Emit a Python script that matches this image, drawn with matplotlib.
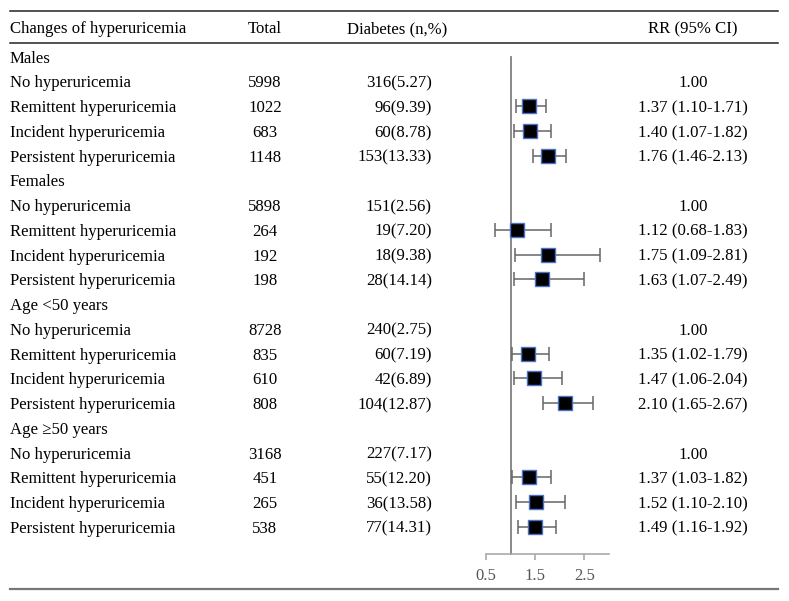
import numpy as np
import matplotlib.pyplot as plt

plt.rcParams['font.family'] = ['Liberation Serif', 'DejaVu Serif']

groups = ['Males', 'Females', 'Age <50 years', 'Age \u226550 years']
changes = ['No hyperuricemia', 'Remittent hyperuricemia',
           'Incident hyperuricemia', 'Persistent hyperuricemia']
totals = [[5998, 1022, 683, 1148],
          [5898, 264, 192, 198],
          [8728, 835, 610, 808],
          [3168, 451, 265, 538]]
diabetes = [['316(5.27)', '96(9.39)', '60(8.78)', '153(13.33)'],
            ['151(2.56)', '19(7.20)', '18(9.38)', '28(14.14)'],
            ['240(2.75)', '60(7.19)', '42(6.89)', '104(12.87)'],
            ['227(7.17)', '55(12.20)', '36(13.58)', '77(14.31)']]
rr = [[1.00, 1.37, 1.40, 1.76],
      [1.00, 1.12, 1.75, 1.63],
      [1.00, 1.35, 1.47, 2.10],
      [1.00, 1.37, 1.52, 1.49]]
rr_lo = [[None, 1.10, 1.07, 1.46],
         [None, 0.68, 1.09, 1.07],
         [None, 1.02, 1.06, 1.65],
         [None, 1.03, 1.10, 1.16]]
rr_hi = [[None, 1.71, 1.82, 2.13],
         [None, 1.83, 2.81, 2.49],
         [None, 1.79, 2.04, 2.67],
         [None, 1.82, 2.10, 1.92]]

W, H = 789, 601
fig = plt.figure(figsize=(W / 100, H / 100), dpi=100)

# table layer in pixel coordinates
tab = fig.add_axes([0, 0, 1, 1])
tab.set_xlim(0, W)
tab.set_ylim(H, 0)
tab.axis('off')

fs = 12.1
yb0, dy = 62.7, 24.74   # baseline of first row, row step
x_lab, x_tot, x_dia, x_rr = 10, 265, 432, 693

tab.plot([10, 778], [11, 11], color='#222222', lw=1.1)
tab.plot([10, 778], [43, 43], color='#222222', lw=1.1)
tab.plot([10, 778], [589, 589], color='#777777', lw=1.6)

hy = 33
tab.text(x_lab, hy, 'Changes of hyperuricemia', fontsize=fs, va='baseline')
tab.text(x_tot, hy, 'Total', fontsize=fs, va='baseline', ha='center')
tab.text(397, hy, 'Diabetes (n,%)', fontsize=fs, va='baseline', ha='center')
tab.text(x_rr, hy, 'RR (95% CI)', fontsize=fs, va='baseline', ha='center')

for g in range(4):
    yg = yb0 + dy * g * 5
    tab.text(x_lab, yg, groups[g], fontsize=fs, va='baseline')
    for k in range(4):
        y = yg + dy * (k + 1)
        tab.text(x_lab, y, changes[k], fontsize=fs, va='baseline')
        tab.text(x_tot, y, str(totals[g][k]), fontsize=fs, va='baseline', ha='center')
        tab.text(x_dia, y, diabetes[g][k], fontsize=fs, va='baseline', ha='right')
        if rr_lo[g][k] is None:
            s = '%.2f' % rr[g][k]
        else:
            s = '%.2f (%.2f-%.2f)' % (rr[g][k], rr_lo[g][k], rr_hi[g][k])
        tab.text(x_rr, y, s, fontsize=fs, va='baseline', ha='center')

# forest plot axes: x 0.5 -> 486 px, 3.0 -> 609 px; row 0 centred 6 px above baseline
y0 = yb0 - 6
ax_y_px = 554
ymax = (ax_y_px - y0) / dy
ax = fig.add_axes([486 / W, 1 - ax_y_px / H, (609 - 486) / W, (ax_y_px - y0) / H])
ax.set_xlim(0.5, 3.0)
ax.set_ylim(ymax, 0)
ax.patch.set_alpha(0)
for s in ['top', 'right', 'left']:
    ax.spines[s].set_visible(False)
ax.spines['bottom'].set_color('#aaaaaa')
ax.spines['bottom'].set_linewidth(1.2)
ax.set_yticks([])
ax.set_xticks([0.5, 1.5, 2.5])
ax.set_xticklabels(['0.5', '1.5', '2.5'])
ax.tick_params(axis='x', colors='#aaaaaa', labelcolor='#555555',
               labelsize=12, length=4, width=1.2, pad=6)

ax.plot([1, 1], [0, ymax], color='#808080', lw=1.3, clip_on=False)

for g in range(4):
    for k in range(1, 4):
        y = g * 5 + k + 1
        lo, hi, v = rr_lo[g][k], rr_hi[g][k], rr[g][k]
        ax.errorbar(v, y, xerr=[[v - lo], [hi - v]], fmt='none',
                    ecolor='#666666', elinewidth=1.1, capsize=5, capthick=1.1)
        ax.plot(v, y, marker='s', ms=10, mfc='black', mec='#4a72c8', mew=1.0,
                ls='none', zorder=3)

fig.savefig('out.png', dpi=100)
